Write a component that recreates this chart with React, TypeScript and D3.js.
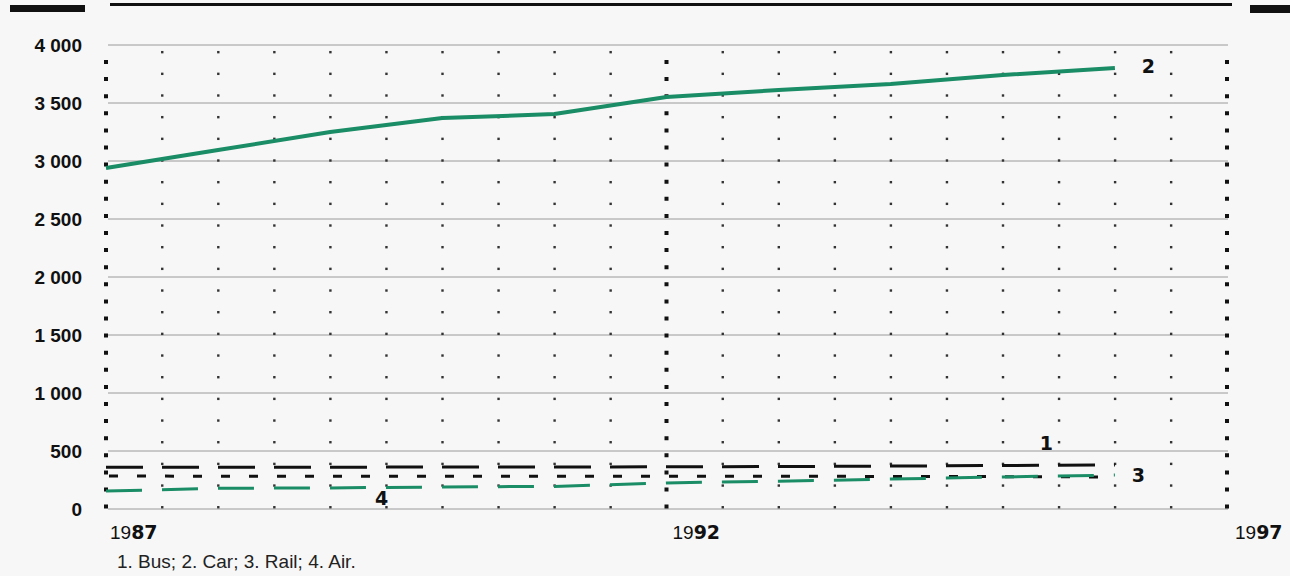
import React from "react";
import * as d3 from "d3";

const years = [1987, 1988, 1989, 1990, 1991, 1992, 1993, 1994, 1995, 1996];
const car = [2940, 3095, 3250, 3370, 3405, 3552, 3612, 3664, 3741, 3802];
const bus = [360, 360, 360, 362, 362, 364, 366, 370, 375, 380];
const rail = [285, 282, 282, 282, 282, 283, 282, 281, 279, 276];
const air = [155, 178, 182, 190, 195, 225, 240, 258, 276, 293];

const yTicks = [0, 500, 1000, 1500, 2000, 2500, 3000, 3500, 4000];
const xMajor = [1987, 1992, 1997];
const xMajorLabels = [["19", "87"], ["19", "92"], ["19", "97"]];
const legendText = "1. Bus; 2. Car; 3. Rail; 4. Air.";
const seriesLabels = [
  { text: "2", year: 1996.24, value: 3760 },
  { text: "1", year: 1995.33, value: 510 },
  { text: "3", year: 1996.15, value: 235 },
  { text: "4", year: 1989.4, value: 35 },
];

const W = 1290;
const H = 576;
const GREEN = "#1a8c66";
const FONT = "'Liberation Sans', Arial, sans-serif";
const HEAVY = "'DejaVu Sans', sans-serif";

export default function App() {
  const x = d3.scaleLinear().domain([1987, 1997]).range([106, 1227]);
  const y = d3.scaleLinear().domain([0, 4000]).range([509, 45]);

  const fmt = (v: number) => d3.format(",")(v).replace(/,/g, " ");

  const line = d3
    .line<number>()
    .x((_, i) => x(years[i]))
    .y((d) => y(d));

  // minor dot grid: half-year columns, 22 rows
  const dotCols = d3.range(1987.5, 1997, 0.5).filter((v) => !xMajor.includes(v));
  const dotTop = y(3940);
  const dotBottom = y(17);
  const dotRows = d3.range(22).map((k) => dotTop + (k * (dotBottom - dotTop)) / 21);

  return (
    <svg
      width={W}
      height={H}
      style={{ position: "absolute", left: 0, top: 0, background: "#f7f7f7" }}
      fontFamily={FONT}
    >
      <rect x={0} y={0} width={W} height={H} fill="#f7f7f7" />
      {/* decorative top rules */}
      <rect x={10} y={5} width={75} height={7} fill="#111" />
      <rect x={110} y={3} width={1122} height={3} fill="#111" />
      <rect x={1250} y={5} width={40} height={8} fill="#111" />

      {/* horizontal grid lines */}
      {yTicks.map((t) => (
        <line key={t} x1={108} x2={1228} y1={y(t)} y2={y(t)} stroke="#9a9a9a" strokeWidth={1} />
      ))}

      {/* minor dots */}
      {dotCols.map((c) =>
        dotRows.map((r, j) => (
          <rect key={c + "-" + j} x={x(c) - 1} y={r - 1} width={2.4} height={2.4} fill="#333" />
        ))
      )}

      {/* thick dotted major verticals */}
      {xMajor.map((yr) => (
        <line
          key={yr}
          x1={x(yr)}
          x2={x(yr)}
          y1={60}
          y2={509}
          stroke="#111"
          strokeWidth={4}
          strokeDasharray="4 13.1"
        />
      ))}

      {/* y tick labels */}
      {yTicks.map((t) => (
        <text
          key={t}
          x={82}
          y={y(t) + 7}
          textAnchor="end"
          fontSize={19}
          fontWeight="bold"
          fill="#111"
        >
          {fmt(t)}
        </text>
      ))}

      {/* x labels */}
      {xMajor.map((yr, i) => (
        <text key={yr} x={x(yr) + 4 + i * 2} y={539} fontSize={19} fill="#111">
          <tspan>{xMajorLabels[i][0]}</tspan>
          <tspan fontFamily={HEAVY} fontWeight="bold">{xMajorLabels[i][1]}</tspan>
        </text>
      ))}

      {/* series */}
      <path d={line(bus) || ""} fill="none" stroke="#111" strokeWidth={3} strokeDasharray="37 19" />
      <path d={line(rail) || ""} fill="none" stroke="#111" strokeWidth={3} strokeDasharray="9 19" strokeDashoffset={-31} />
      <path d={line(air) || ""} fill="none" stroke={GREEN} strokeWidth={3} strokeDasharray="36 20" />
      <path d={line(car) || ""} fill="none" stroke={GREEN} strokeWidth={4} strokeLinejoin="round" />

      {/* series labels */}
      {seriesLabels.map((s) => (
        <text key={s.text} x={x(s.year)} y={y(s.value)} fontSize={19} fontWeight="bold" fontFamily={HEAVY} fill="#111">
          {s.text}
        </text>
      ))}

      {/* legend */}
      <text x={117} y={568} fontSize={19} fill="#222">
        {legendText}
      </text>
    </svg>
  );
}
